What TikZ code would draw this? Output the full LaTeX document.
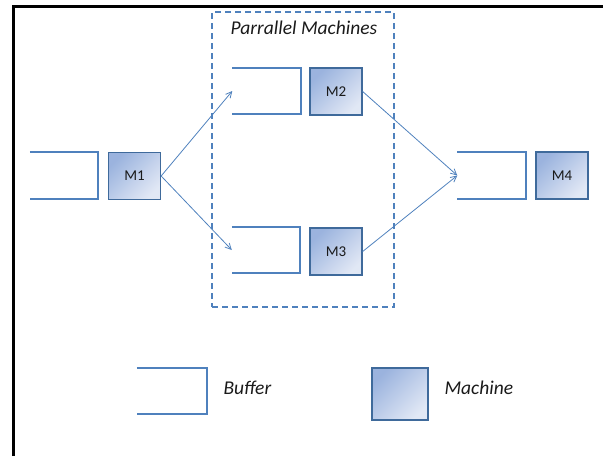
\documentclass[tikz,border=0pt]{standalone}
\usepackage{fontspec}
\setmainfont{Carlito}
\usetikzlibrary{arrows.meta}
\definecolor{lineblue}{HTML}{4F81BD}
\definecolor{boxedge}{HTML}{3F6A9B}
\definecolor{boxdark}{HTML}{9BB3DE}
\definecolor{boxlight}{HTML}{E1E8F5}
\definecolor{txtgray}{HTML}{1A1A1A}
\tikzset{
	machine/.style={draw=boxedge,line width=1.3pt,top color=boxdark,bottom color=boxlight,shading angle=45,
		minimum width=52pt,minimum height=47pt,inner sep=0pt,text=txtgray,font=\fontsize{15}{17}\selectfont},
	buffer/.style={minimum width=68pt,minimum height=46pt,inner sep=0pt},
	bufline/.style={draw=lineblue,line width=2pt},
	flow/.style={draw=lineblue,line width=0.8pt,-{Straight Barb[length=6pt,width=6pt]}},
	group/.style={draw=lineblue,line width=1.3pt,dash pattern=on 6pt off 4pt},
	caption/.style={font=\fontsize{19.5}{22}\selectfont\itshape,text=txtgray}
}
\newcommand{\bufshape}[1]{\draw[bufline] (#1.north west)--(#1.north east)--(#1.south east)--(#1.south west);}
\begin{document}
\begin{tikzpicture}[x=1pt,y=-1pt]
	\useasboundingbox (0,0) rectangle (603,456);
	\draw[line width=3pt] (13,456)--(13,6)--(603,6);

	\node (par)[group,minimum width=182pt,minimum height=295pt] at (303,159.5){};
	\node (partxt)[caption] at (304,28){Parrallel Machines};

	\draw (64,175.5) node (b1)[buffer]{};
	\draw (134.5,176) node (m1)[machine]{M1};
	\draw (266.5,91) node (b2)[buffer]{};
	\draw (336,91.5) node (m2)[machine]{M2};
	\draw (266,250) node (b3)[buffer]{};
	\draw (336,251.5) node (m3)[machine]{M3};
	\draw (491.5,175.5) node (b4)[buffer]{};
	\draw (562,175.5) node (m4)[machine]{M4};
	\bufshape{b1}
	\bufshape{b2}
	\bufshape{b3}
	\bufshape{b4}

	\draw[flow] (m1.east)--(b2.west);
	\draw[flow] (m1.east)--(b3.west);
	\draw[flow] (m2.east)--(b4.west);
	\draw[flow] (m3.east)--(b4.west);

	% legend
	\draw (172,391) node (lb)[buffer,minimum width=70pt]{};
	\bufshape{lb}
	\draw (400,394) node (lm)[machine,minimum width=56pt,minimum height=52pt]{};
	\node (lbtxt)[caption,anchor=west] at (220,388){Buffer};
	\node (lmtxt)[caption,anchor=west] at (441,388){Machine};
\end{tikzpicture}
\end{document}
